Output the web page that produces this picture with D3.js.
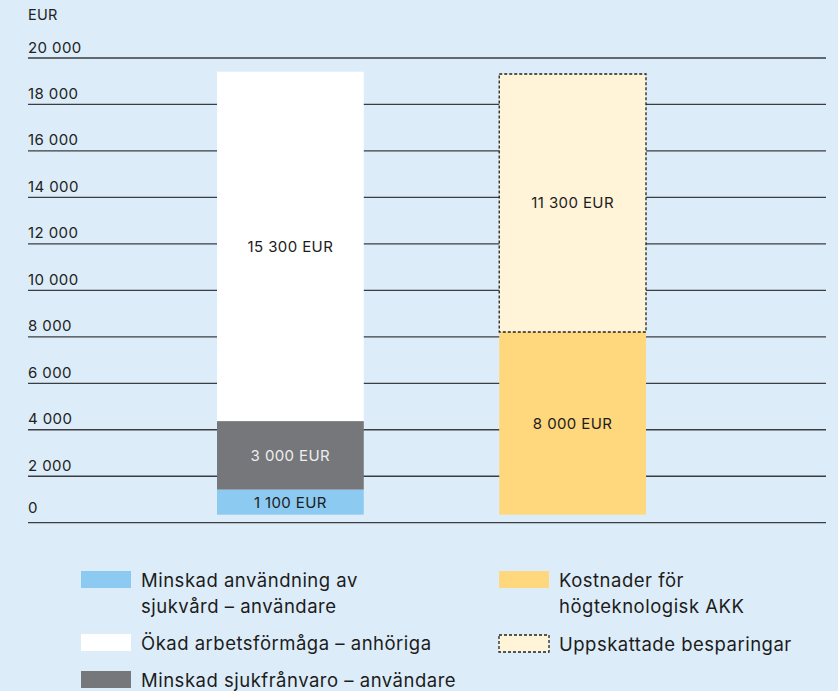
<!DOCTYPE html>
<html>
<head>
<meta charset="utf-8">
<script src="https://cdn.jsdelivr.net/npm/d3@7"></script>
<style>
  html, body { margin: 0; padding: 0; background: #dcedf9; }
  #chart { width: 838px; height: 691px; }
  text { font-family: Inter, "Liberation Sans", Arial, sans-serif; }
</style>
</head>
<body>
<div id="chart"></div>
<script>
// Stacked bars: savings vs. costs of high-tech AAC (EUR)
var barNames = ["Besparingar", "Kostnader"];

// bar 1, bottom to top
var savingsNames  = ["Minskad användning av sjukvård – användare", "Minskad sjukfrånvaro – användare", "Ökad arbetsförmåga – anhöriga"];
var savingsValues = [1100, 3000, 15300];

// bar 2, bottom to top
var costNames  = ["Kostnader för högteknologisk AKK", "Uppskattade besparingar"];
var costValues = [8000, 11300];

var yTicks = [0, 2000, 4000, 6000, 8000, 10000, 12000, 14000, 16000, 18000, 20000];

// legend: left column then right column
var legendLeft  = ["Minskad användning av\nsjukvård – användare", "Ökad arbetsförmåga – anhöriga", "Minskad sjukfrånvaro – användare"];
var legendRight = ["Kostnader för\nhögteknologisk AKK", "Uppskattade besparingar"];

var W = 838, H = 691;
var svg = d3.select("#chart").append("svg")
    .attr("width", W)
    .attr("height", H);

svg.append("rect").attr("width", W).attr("height", H).attr("fill", "#dcedf9");

var sv = d3.formatLocale({ decimal: ",", thousands: " ", grouping: [3], currency: ["", ""] });
var fmt = sv.format(",.0f");

// --- Scales ---
var y = d3.scaleLinear().domain([0, 20000]).range([522.7, 58]);
// bars sit a little above the zero line in the original
var yBar = d3.scaleLinear().domain([0, 20000]).range([514.7, 58]);

var x = d3.scaleBand()
    .domain(barNames)
    .range([217, 646])
    .paddingInner(0.48)
    .paddingOuter(0);

// --- Grid + tick labels ---
var grid = svg.append("g").attr("class", "grid");
grid.selectAll("line")
    .data(yTicks)
    .enter().append("line")
    .attr("x1", 28).attr("x2", 826)
    .attr("y1", function(d) { return y(d); })
    .attr("y2", function(d) { return y(d); })
    .attr("stroke", "#3b3d40")
    .attr("stroke-width", 1.3);

grid.selectAll("text")
    .data(yTicks)
    .enter().append("text")
    .attr("x", 28)
    .attr("y", function(d) { return y(d) - (d === 0 ? 9.5 : 5.5); })
    .style("font-size", "15px")
    .style("letter-spacing", "0.4px")
    .style("fill", "#222")
    .text(function(d) { return fmt(d); });

svg.append("text")
    .attr("x", 28).attr("y", 20)
    .style("font-size", "14.5px")
    .style("letter-spacing", "0.3px")
    .style("fill", "#222")
    .text("EUR");

// --- Stacks ---
function stackUp(names, values) {
    var acc = 0;
    return values.map(function(v, i) {
        var s = { name: names[i], value: v, y0: acc, y1: acc + v };
        acc += v;
        return s;
    });
}

var savingsColors = ["#8ccaf1", "#75777a", "#ffffff"];
var savingsText   = ["#1c1c1c", "#eeeeee", "#1c1c1c"];
var costColors    = ["#ffd77d", "#fff3d8"];

var g1 = svg.append("g");
var s1 = stackUp(savingsNames, savingsValues);
g1.selectAll("rect")
    .data(s1)
    .enter().append("rect")
    .attr("x", x(barNames[0]))
    .attr("width", x.bandwidth())
    .attr("y", function(d) { return yBar(d.y1); })
    .attr("height", function(d) { return yBar(d.y0) - yBar(d.y1); })
    .attr("fill", function(d, i) { return savingsColors[i]; });
g1.selectAll("text")
    .data(s1)
    .enter().append("text")
    .attr("x", x(barNames[0]) + x.bandwidth() / 2)
    .attr("y", function(d) { return (yBar(d.y0) + yBar(d.y1)) / 2; })
    .attr("dy", "0.36em")
    .attr("text-anchor", "middle")
    .style("font-size", "15px")
    .style("letter-spacing", "0.4px")
    .style("fill", function(d, i) { return savingsText[i]; })
    .text(function(d) { return fmt(d.value) + " EUR"; });

var g2 = svg.append("g");
var s2 = stackUp(costNames, costValues);
g2.selectAll("rect")
    .data(s2)
    .enter().append("rect")
    .attr("x", x(barNames[1]))
    .attr("width", x.bandwidth())
    .attr("y", function(d) { return yBar(d.y1); })
    .attr("height", function(d) { return yBar(d.y0) - yBar(d.y1); })
    .attr("fill", function(d, i) { return costColors[i]; })
    .attr("stroke", function(d, i) { return i === 1 ? "#222" : "none"; })
    .attr("stroke-width", 1.3)
    .attr("stroke-dasharray", "3,2");
g2.selectAll("text")
    .data(s2)
    .enter().append("text")
    .attr("x", x(barNames[1]) + x.bandwidth() / 2)
    .attr("y", function(d) { return (yBar(d.y0) + yBar(d.y1)) / 2; })
    .attr("dy", "0.36em")
    .attr("text-anchor", "middle")
    .style("font-size", "15px")
    .style("letter-spacing", "0.4px")
    .style("fill", "#1c1c1c")
    .text(function(d) { return fmt(d.value) + " EUR"; });

// --- Legend ---
function legendColumn(labels, fills, dashed, sx, tx, tops) {
    var lg = svg.append("g");
    labels.forEach(function(label, i) {
        lg.append("rect")
            .attr("x", sx).attr("y", tops[i])
            .attr("width", 50).attr("height", 17)
            .attr("fill", fills[i])
            .attr("stroke", dashed[i] ? "#222" : "none")
            .attr("stroke-width", 1.3)
            .attr("stroke-dasharray", "3,2");
        var t = lg.append("text")
            .attr("x", tx).attr("y", tops[i] + 16)
            .style("font-size", "18.5px")
            .style("letter-spacing", "0.5px")
            .style("fill", "#1c1c1c");
        label.split("\n").forEach(function(line, j) {
            t.append("tspan")
                .attr("x", tx)
                .attr("dy", j === 0 ? 0 : 26)
                .text(line);
        });
    });
}

legendColumn(legendLeft, ["#8ccaf1", "#ffffff", "#75777a"], [false, false, false], 81, 141, [571, 634, 671]);
legendColumn(legendRight, ["#ffd77d", "#fff3d8"], [false, true], 499, 559, [571, 635]);
</script>
</body>
</html>
